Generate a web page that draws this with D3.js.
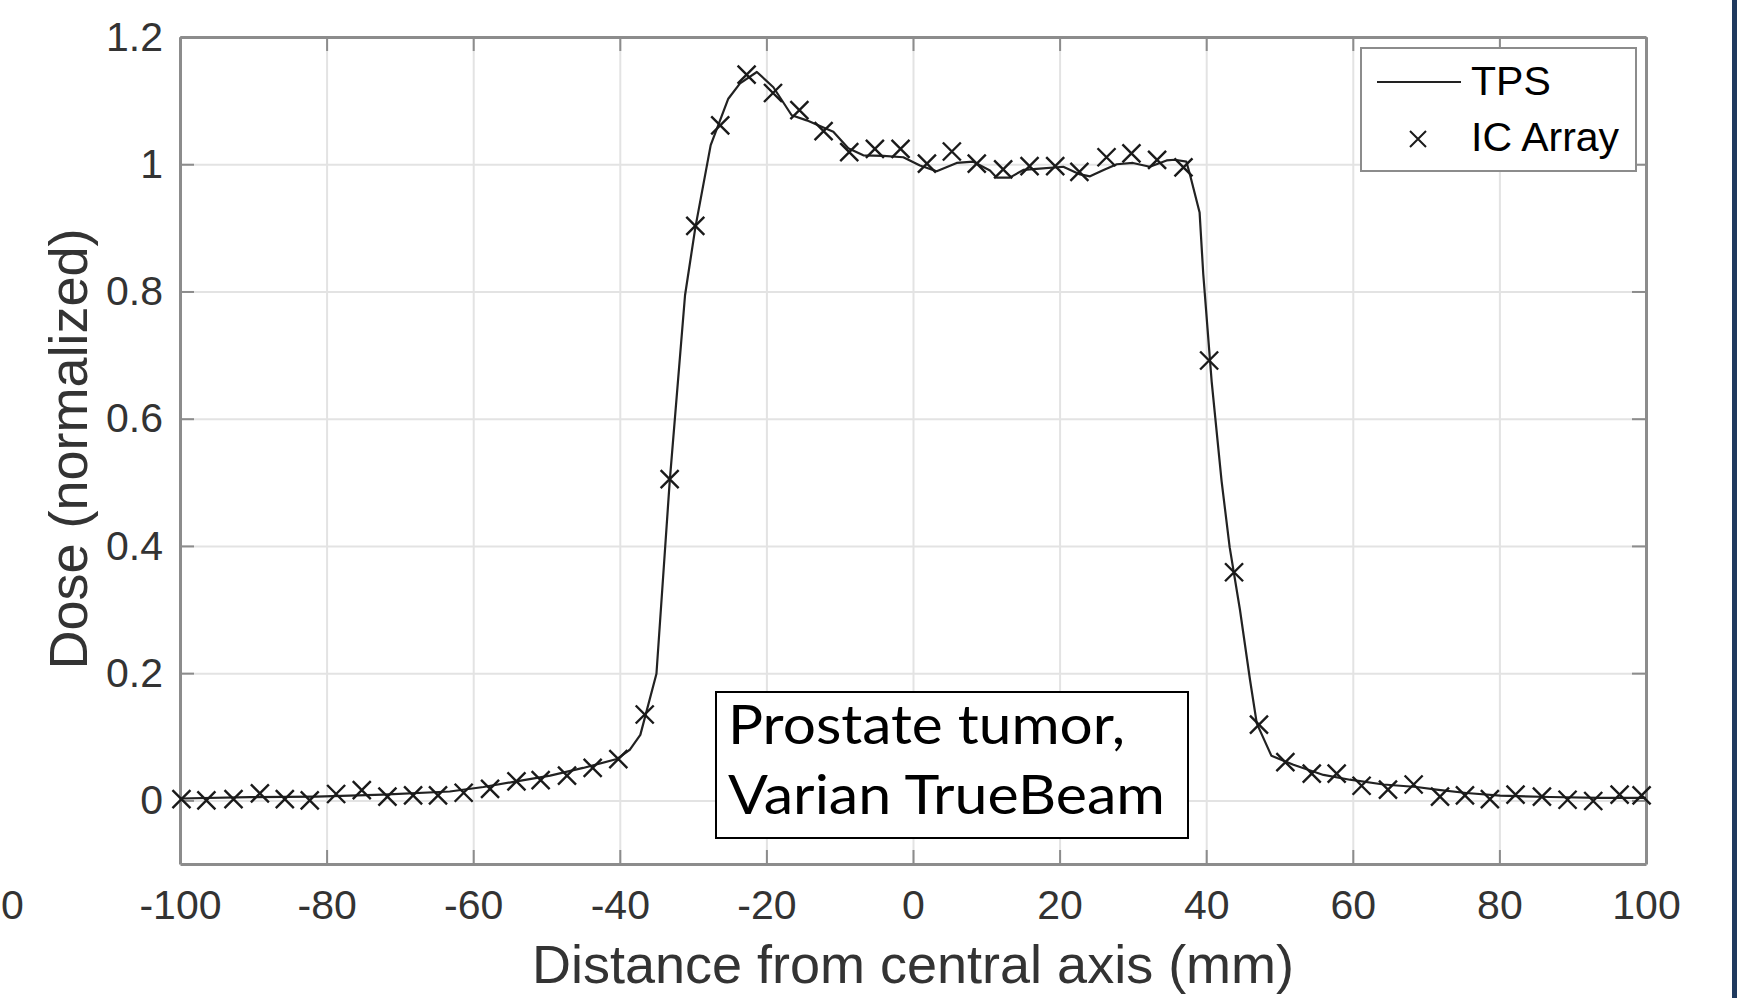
<!DOCTYPE html>
<html>
<head>
<meta charset="utf-8">
<script src="https://cdn.jsdelivr.net/npm/d3@7"></script>
<style>
  body { margin: 0; background: #fff; }
  svg { display: block; }
</style>
</head>
<body>
<div id="chart"></div>
<script>
// TPS profile (line)
var tpsX = [-100, -90.5, -81.4, -72.3, -63.2, -58.6, -54.1, -49.5, -45, -40.4, -38.6, -37.2, -35, -33.2, -31.1, -29.7, -27.6,
  -25.2, -23.6, -21.3, -19.05, -16.55, -14.5, -12.46, -10.87, -8.83, -6.78, -4.05, -1.32, 0.95, 3.23, 5.96, 8.23,
  10.5, 11.4, 13.2, 15.05, 17.3, 20.5, 22.8, 24.15, 26.0, 27.8, 30.0, 32.3, 34.6, 35.7, 37.3, 37.8, 39.1, 39.6,
  40.75, 42.1, 43.2, 44.6, 45.97, 46.9, 48.9, 51.9, 56, 59.6, 64.2, 68.7, 71.4, 75.5, 80.1, 86.9, 93.7, 100];
var tpsDose = [0.003, 0.005, 0.006, 0.009, 0.014, 0.021, 0.030, 0.039, 0.051, 0.065, 0.080, 0.103, 0.199, 0.50, 0.794, 0.90, 1.03,
  1.103, 1.127, 1.145, 1.121, 1.077, 1.069, 1.059, 1.051, 1.025, 1.014, 1.013, 1.011, 0.998, 0.989, 1.002, 1.004,
  0.990, 0.979, 0.979, 0.991, 0.993, 0.996, 0.984, 0.981, 0.991, 1.000, 1.002, 0.996, 1.006, 1.007, 1.004, 0.983, 0.924, 0.827,
  0.658, 0.502, 0.398, 0.300, 0.19, 0.121, 0.07, 0.056, 0.040, 0.0325, 0.025, 0.021, 0.017, 0.0116, 0.0074, 0.0053, 0.0038, 0.0038];

// IC Array measurements (x markers)
var icX = [-99.8, -96.4, -92.7, -89.1, -85.7, -82.3, -78.7, -75.2, -71.7, -68.2, -64.8, -61.3, -57.7, -54.1, -50.8, -47.2, -43.7, -40.2, -36.6,
  -33.2, -29.7, -26.3, -22.7, -19.1, -15.5, -12.2, -8.7, -5.2, -1.7,
  1.9, 5.3, 8.7, 12.3, 15.9, 19.4, 22.7, 26.4, 29.8, 33.3, 36.9,
  40.4, 43.8, 47.2, 50.8, 54.4, 57.8, 61.2, 64.8, 68.3, 71.9, 75.3, 78.7, 82.2, 85.8, 89.3, 92.8, 96.4, 99.4];
var icDose = [0.002, 0.000, 0.002, 0.011, 0.002, 0.000, 0.010, 0.016, 0.006, 0.008, 0.008, 0.012, 0.018, 0.030, 0.032, 0.039, 0.051, 0.065, 0.135,
  0.505, 0.903, 1.061, 1.141, 1.112, 1.085, 1.052, 1.019, 1.024, 1.024,
  1.001, 1.020, 1.001, 0.992, 0.997, 0.997, 0.988, 1.011, 1.017, 1.007, 0.995,
  0.6915, 0.3586, 0.119, 0.060, 0.042, 0.042, 0.023, 0.017, 0.025, 0.006, 0.008, 0.002, 0.009, 0.006, 0.001, -0.001, 0.009, 0.008];

var xTicks = [-100, -80, -60, -40, -20, 0, 20, 40, 60, 80, 100];
var yTicks = [0, 0.2, 0.4, 0.6, 0.8, 1, 1.2];
var legendNames = ["TPS", "IC Array"];
var noteLines = ["Prostate tumor,", "Varian TrueBeam"];

var W = 1737, H = 998;
var margin = { top: 37, left: 180, right: 91, bottom: 134 };
var width = W - margin.left - margin.right,
    height = H - margin.top - margin.bottom;

var font = "'Liberation Sans', Arial, Helvetica, sans-serif";
var axisGray = "#8c8c8c";

var svg = d3.select("#chart").append("svg")
    .attr("width", W)
    .attr("height", H);

svg.append("rect").attr("width", W).attr("height", H).attr("fill", "#fff");

// navy strip on the right edge
svg.append("rect").attr("x", 1732).attr("y", 0).attr("width", 5).attr("height", H).attr("fill", "#203a5e");

// tick label left over from a neighbour plot
svg.append("text").attr("x", 1).attr("y", 919).attr("text-anchor", "start")
    .style("font-family", font).style("font-size", "41px").style("fill", "#333").text("0");

var g = svg.append("g").attr("transform", "translate(" + margin.left + "," + margin.top + ")");

var x = d3.scaleLinear().domain([-100, 100]).range([0, width]);
var y = d3.scaleLinear().domain([-0.1, 1.2]).range([height, 0]);

// grid
g.append("g").attr("class", "grid")
    .attr("transform", "translate(0," + height + ")")
    .call(d3.axisBottom(x).tickValues(xTicks).tickSize(-height).tickFormat(""))
    .call(function(s) { s.select(".domain").remove(); });
g.append("g").attr("class", "grid")
    .call(d3.axisLeft(y).tickValues(yTicks).tickSize(-width).tickFormat(""))
    .call(function(s) { s.select(".domain").remove(); });
g.selectAll(".grid line").attr("stroke", "#e3e3e3").attr("stroke-width", 2);

// axes, ticks pointing inward on all four sides
var xAxis = g.append("g")
    .attr("transform", "translate(0," + height + ")")
    .call(d3.axisBottom(x).tickValues(xTicks).tickSizeInner(-14).tickSizeOuter(0).tickPadding(25).tickFormat(function(d) { return String(d); }));
var yAxis = g.append("g")
    .call(d3.axisLeft(y).tickValues(yTicks).tickSizeInner(-14).tickSizeOuter(0).tickPadding(17).tickFormat(function(d) { return String(d); }));
g.append("g")
    .call(d3.axisTop(x).tickValues(xTicks).tickSizeInner(-14).tickSizeOuter(0).tickFormat(""));
g.append("g")
    .attr("transform", "translate(" + width + ",0)")
    .call(d3.axisRight(y).tickValues(yTicks).tickSizeInner(-14).tickSizeOuter(0).tickFormat(""));

g.selectAll(".domain").attr("stroke", axisGray).attr("stroke-width", 3);
g.selectAll(".tick line").filter(function() { return !this.closest(".grid"); })
    .attr("stroke", axisGray).attr("stroke-width", 2);
g.selectAll(".tick text")
    .style("font-family", font).style("font-size", "41px").attr("fill", "#333");
xAxis.selectAll(".tick text").attr("dy", "0.72em");

// TPS line
var line = d3.line()
    .x(function(d, i) { return x(tpsX[i]); })
    .y(function(d) { return y(d); });
g.append("path")
    .datum(tpsDose)
    .attr("d", line)
    .attr("fill", "none")
    .attr("stroke", "#222")
    .attr("stroke-width", 2.2)
    .attr("stroke-linejoin", "round");

// IC Array markers
var cross = "M-9,-9L9,9M-9,9L9,-9";
g.selectAll(".ic")
    .data(icDose)
    .enter()
    .append("path")
    .attr("class", "ic")
    .attr("transform", function(d, i) { return "translate(" + x(icX[i]) + "," + y(d) + ")"; })
    .attr("d", cross)
    .attr("stroke", "#1a1a1a")
    .attr("stroke-width", 2.4)
    .attr("fill", "none");

// annotation box
var note = svg.append("g");
note.append("rect")
    .attr("x", 716).attr("y", 692).attr("width", 472).attr("height", 146)
    .attr("fill", "#fff").attr("stroke", "#000").attr("stroke-width", 2);
note.selectAll("text")
    .data(noteLines)
    .enter()
    .append("text")
    .attr("x", 728)
    .attr("y", function(d, i) { return 744 + i * 70; })
    .attr("textLength", function(d, i) { return i === 0 ? 397 : 437; })
    .attr("lengthAdjust", "spacingAndGlyphs")
    .style("font-family", "Lato, 'Open Sans', sans-serif")
    .style("font-size", "55px")
    .style("fill", "#000")
    .text(function(d) { return d; });

// legend
var leg = svg.append("g");
leg.append("rect")
    .attr("x", 1361).attr("y", 48).attr("width", 275).attr("height", 123)
    .attr("fill", "#fff").attr("stroke", axisGray).attr("stroke-width", 2);
leg.append("line")
    .attr("x1", 1377).attr("x2", 1461).attr("y1", 82).attr("y2", 82)
    .attr("stroke", "#222").attr("stroke-width", 2.2);
leg.append("path")
    .attr("transform", "translate(1418,139)")
    .attr("d", "M-8,-8L8,8M-8,8L8,-8")
    .attr("stroke", "#1a1a1a").attr("stroke-width", 2);
leg.selectAll("text")
    .data(legendNames)
    .enter()
    .append("text")
    .attr("x", 1471)
    .attr("y", function(d, i) { return i === 0 ? 95 : 151; })
    .style("font-family", font)
    .style("font-size", "41px")
    .style("fill", "#000")
    .text(function(d) { return d; });

// axis labels
svg.append("text")
    .attr("x", margin.left + width / 2)
    .attr("y", 983)
    .attr("text-anchor", "middle")
    .style("font-family", font).style("font-size", "54px").style("fill", "#333")
    .text("Distance from central axis (mm)");
svg.append("text")
    .attr("transform", "translate(87,449) rotate(-90)")
    .attr("text-anchor", "middle")
    .style("font-family", font).style("font-size", "54px").style("fill", "#333")
    .text("Dose (normalized)");
</script>
</body>
</html>
